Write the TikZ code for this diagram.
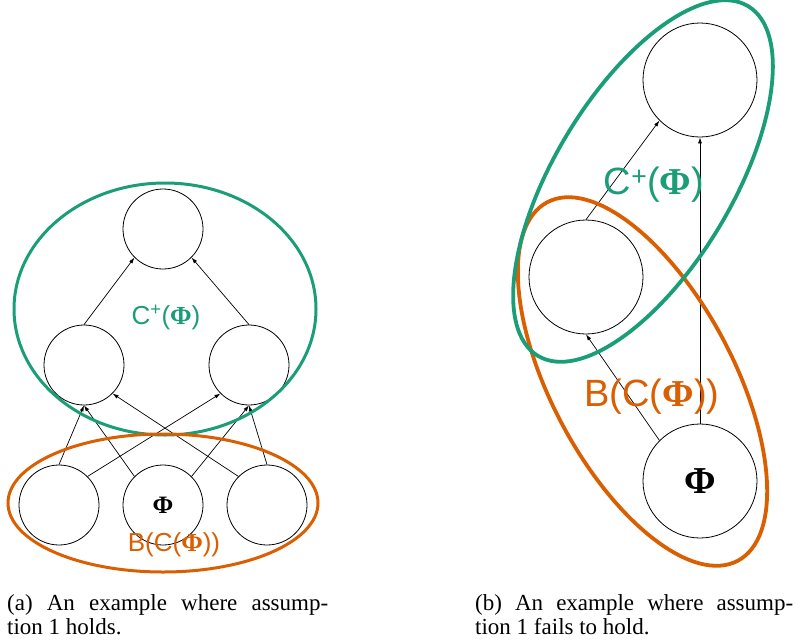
\documentclass[tikz,border=0pt]{standalone}
\usepackage{fontspec}
\setmainfont{Liberation Serif}
\setsansfont{Liberation Sans}
\usetikzlibrary{arrows.meta}
\definecolor{cgreen}{RGB}{27,158,119}
\definecolor{corange}{RGB}{217,95,2}
\newcommand{\bPhi}{{\rmfamily\bfseries Φ}}
\begin{document}
\begin{tikzpicture}[x=1pt,y=-1pt,
  circ/.style={circle,draw,line width=0.8pt,inner sep=0pt},
  smallc/.style={circ,minimum size=80pt},
  bigc/.style={circ,minimum size=114pt},
  arr/.style={-{Latex[length=6pt,width=4pt]},line width=0.7pt},
  gell/.style={draw=cgreen,line width=3pt},
  oell/.style={draw=corange,line width=3pt},
  gellb/.style={draw=cgreen,line width=3.8pt},
  oellb/.style={draw=corange,line width=3.8pt},
  captxt/.style={anchor=base west,inner sep=0pt,font=\fontsize{23}{24}\selectfont}]
\useasboundingbox (0,0) rectangle (795,643);

% ---------- left panel ----------
\node[smallc] (lt) at (163,229) {};
\node[smallc] (ml) at (84,365) {};
\node[smallc] (mr) at (249,365) {};
\node[smallc] (bl) at (59,505) {};
\node[smallc,font=\fontsize{25}{25}\selectfont] (bm) at (163,505) {\bPhi};
\node[smallc] (br) at (267,505) {};

\draw[arr] (bl.north) -- (ml.south);
\draw[arr] (bm.north west) -- (ml.south);
\draw[arr] (br.north west) -- (ml.south east);
\draw[arr] (bl.north east) -- (mr.south west);
\draw[arr] (bm.north east) -- (mr.south);
\draw[arr] (br.north) -- (mr.south);
\draw[arr] (ml.north) -- (lt.south west);
\draw[arr] (mr.north) -- (lt.south east);

\draw[gell] (165,309) ellipse [x radius=151pt, y radius=126pt];
\draw[oell] (163,503) ellipse [x radius=155pt, y radius=69pt];

\node[text=cgreen,font=\sffamily\fontsize{26}{26}\selectfont] (lc) at (166,317) {C\textsuperscript{+}(\bPhi)};
\node[text=corange,font=\sffamily\fontsize{26}{26}\selectfont] (lb) at (174,545) {B(C(\bPhi))};

% ---------- right panel ----------
\node[bigc] (rt) at (700,80) {};
\node[bigc] (rm) at (586,277) {};
\node[bigc,font=\fontsize{38}{38}\selectfont] (rp) at (700,481) {\bPhi};

\draw[arr] (rm.north) -- (rt.south west);
\draw[arr] (rp.north west) -- (rm.south);
\draw[arr] (rp.north) -- (rt.south);

\draw[oellb,rotate around={-62:(642.5,381.5)}] (642.5,381.5) ellipse [x radius=203pt, y radius=91pt];
\draw[gellb,rotate around={59:(643,181)}] (643,181) ellipse [x radius=204pt, y radius=89pt];

\node[text=cgreen,font=\sffamily\fontsize{38}{38}\selectfont] (rc) at (654,185) {C\textsuperscript{+}(\bPhi)};
\node[text=corange,font=\sffamily\fontsize{38}{38}\selectfont] (rb) at (652,397) {B(C(\bPhi))};

% ---------- captions ----------
\node[captxt] (ca1) at (7,610) {\makebox[321pt][s]{(a) An example where assump-}};
\node[captxt] (ca2) at (7,634) {tion 1 holds.};
\node[captxt] (cb1) at (475,610) {\makebox[318pt][s]{(b) An example where assump-}};
\node[captxt] (cb2) at (475,634) {tion 1 fails to hold.};
\end{tikzpicture}
\end{document}
